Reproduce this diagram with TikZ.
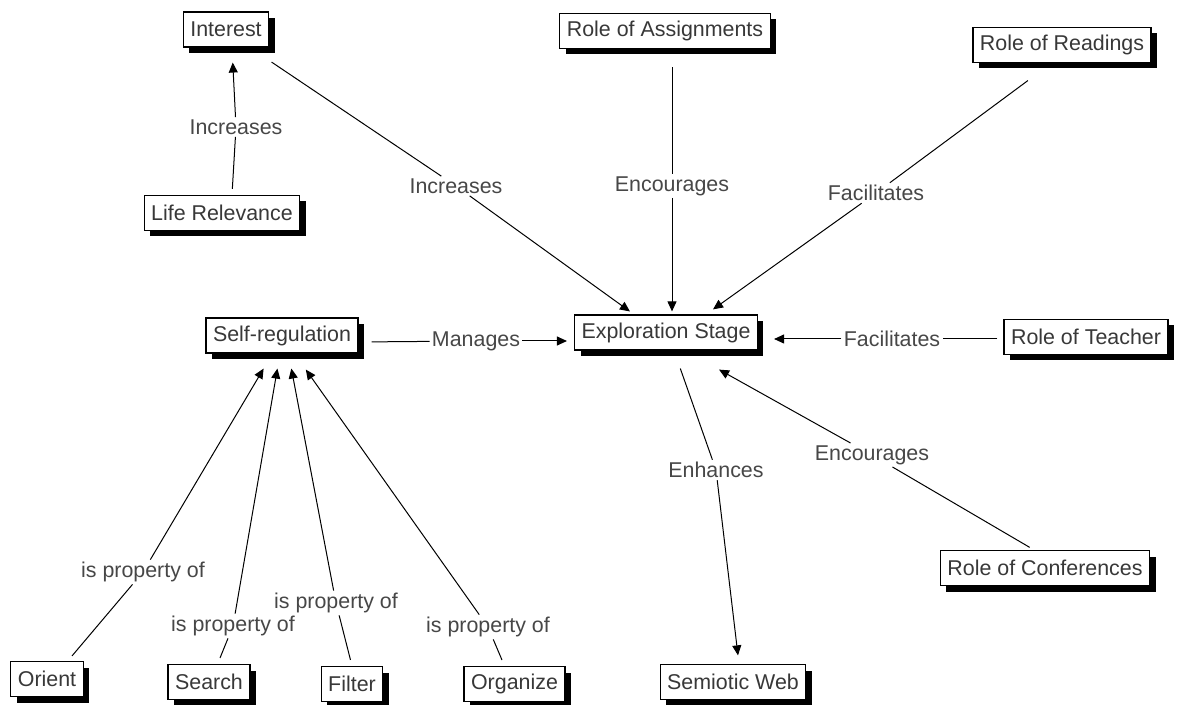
\documentclass[tikz,border=0pt]{standalone}
\usepackage{fontspec}
\setmainfont{Liberation Sans}
\usetikzlibrary{arrows.meta,shadows}

\begin{document}
\begin{tikzpicture}[x=0.5pt,y=-0.5pt]

  \tikzstyle{concept}=[draw,fill=white,line width=0.6pt,minimum height=17.5pt,
    inner xsep=3.5pt,font=\fontsize{10.7}{12}\selectfont,text=black!78,
    drop shadow={shadow xshift=3pt,shadow yshift=-3pt,fill=black,opacity=1}]
  \tikzstyle{phrase}=[fill=white,inner sep=1pt,font=\fontsize{10.7}{12}\selectfont,text=black!72]
  \tikzstyle{link}=[line width=0.5pt]
  \tikzstyle{linkto}=[line width=0.5pt,-{Triangle[length=5pt,width=4.5pt]}]

  \useasboundingbox (0,0) rectangle (1178,705);

  \foreach \name/\x/\y/\text in {interest/226/29.5/Interest,
      assign/665/31/Role of Assignments, readings/1062/45/Role of Readings,
      life/222/213/Life Relevance, selfreg/282/335.5/Self-regulation,
      expl/666/332.5/Exploration Stage, teacher/1086/337/Role of Teacher,
      semiotic/733/682/Semiotic Web, conf/1045/568/Role of Conferences,
      orient/47/679/Orient, search/209/682/Search, filter/352/684/Filter,
      organize/514.5/684/Organize}
    \node[concept] (\name) at (\x,\y) {\text};

  \foreach \name/\x/\y/\text in {l1/236/127/Increases, l2/456/186/Increases,
      l3/672/186/Encourages, l4/876/193/Facilitates, l5/476/341/Manages,
      l6/892/339/Facilitates, l7/716/470/Enhances, l8/872/455/Encourages,
      l9/143/572/is property of, l10/233/626/is property of,
      l11/336/603/is property of, l12/488/627/is property of}
    \node[phrase] (\name) at (\x,\y) {\text};

  % concept -- linking phrase
  \foreach \src/\anc/\dx/\dy/\gap/\lab in {life/north/5/0/3/l1,
      interest/south/12/0/13/l2, assign/south/3.5/0/9/l3,
      readings/south/-5.25/0/14.7/l4, selfreg/east/0/-3.25/6.5/l5,
      teacher/west/0/-1/3/l6, expl/south/4/0/9.5/l7, conf/north/-5.5/0/2.5/l8,
      orient/north/10.4/0/3.3/l9, search/north/4.3/0/3.2/l10,
      filter/north/0/0/3.1/l11, organize/north/-5/0/3.2/l12}
    \draw[link,shorten <=\gap pt] ([xshift=\dx pt,yshift=\dy pt]\src.\anc) -- (\lab);

  % linking phrase -> concept
  \foreach \lab/\tgt/\anc/\dx/\dy/\gap in {l1/interest/south/3/0/7.5,
      l2/expl/north/-16/0/2.5, l3/expl/north/3/0/1.5, l4/expl/north/20/0/4.3,
      l5/expl/west/0/-4.25/3.5, l6/expl/east/0/-3.25/8,
      l7/semiotic/north/3/0/4.3, l8/expl/south/9.5/0/19.5,
      l9/selfreg/south/-4.75/0/8.7, l10/selfreg/south/-1/0/7.6,
      l11/selfreg/south/3.25/0/7.6, l12/selfreg/south/6.25/0/9.8}
    \draw[linkto,shorten >=\gap pt] (\lab) -- ([xshift=\dx pt,yshift=\dy pt]\tgt.\anc);

\end{tikzpicture}
\end{document}
